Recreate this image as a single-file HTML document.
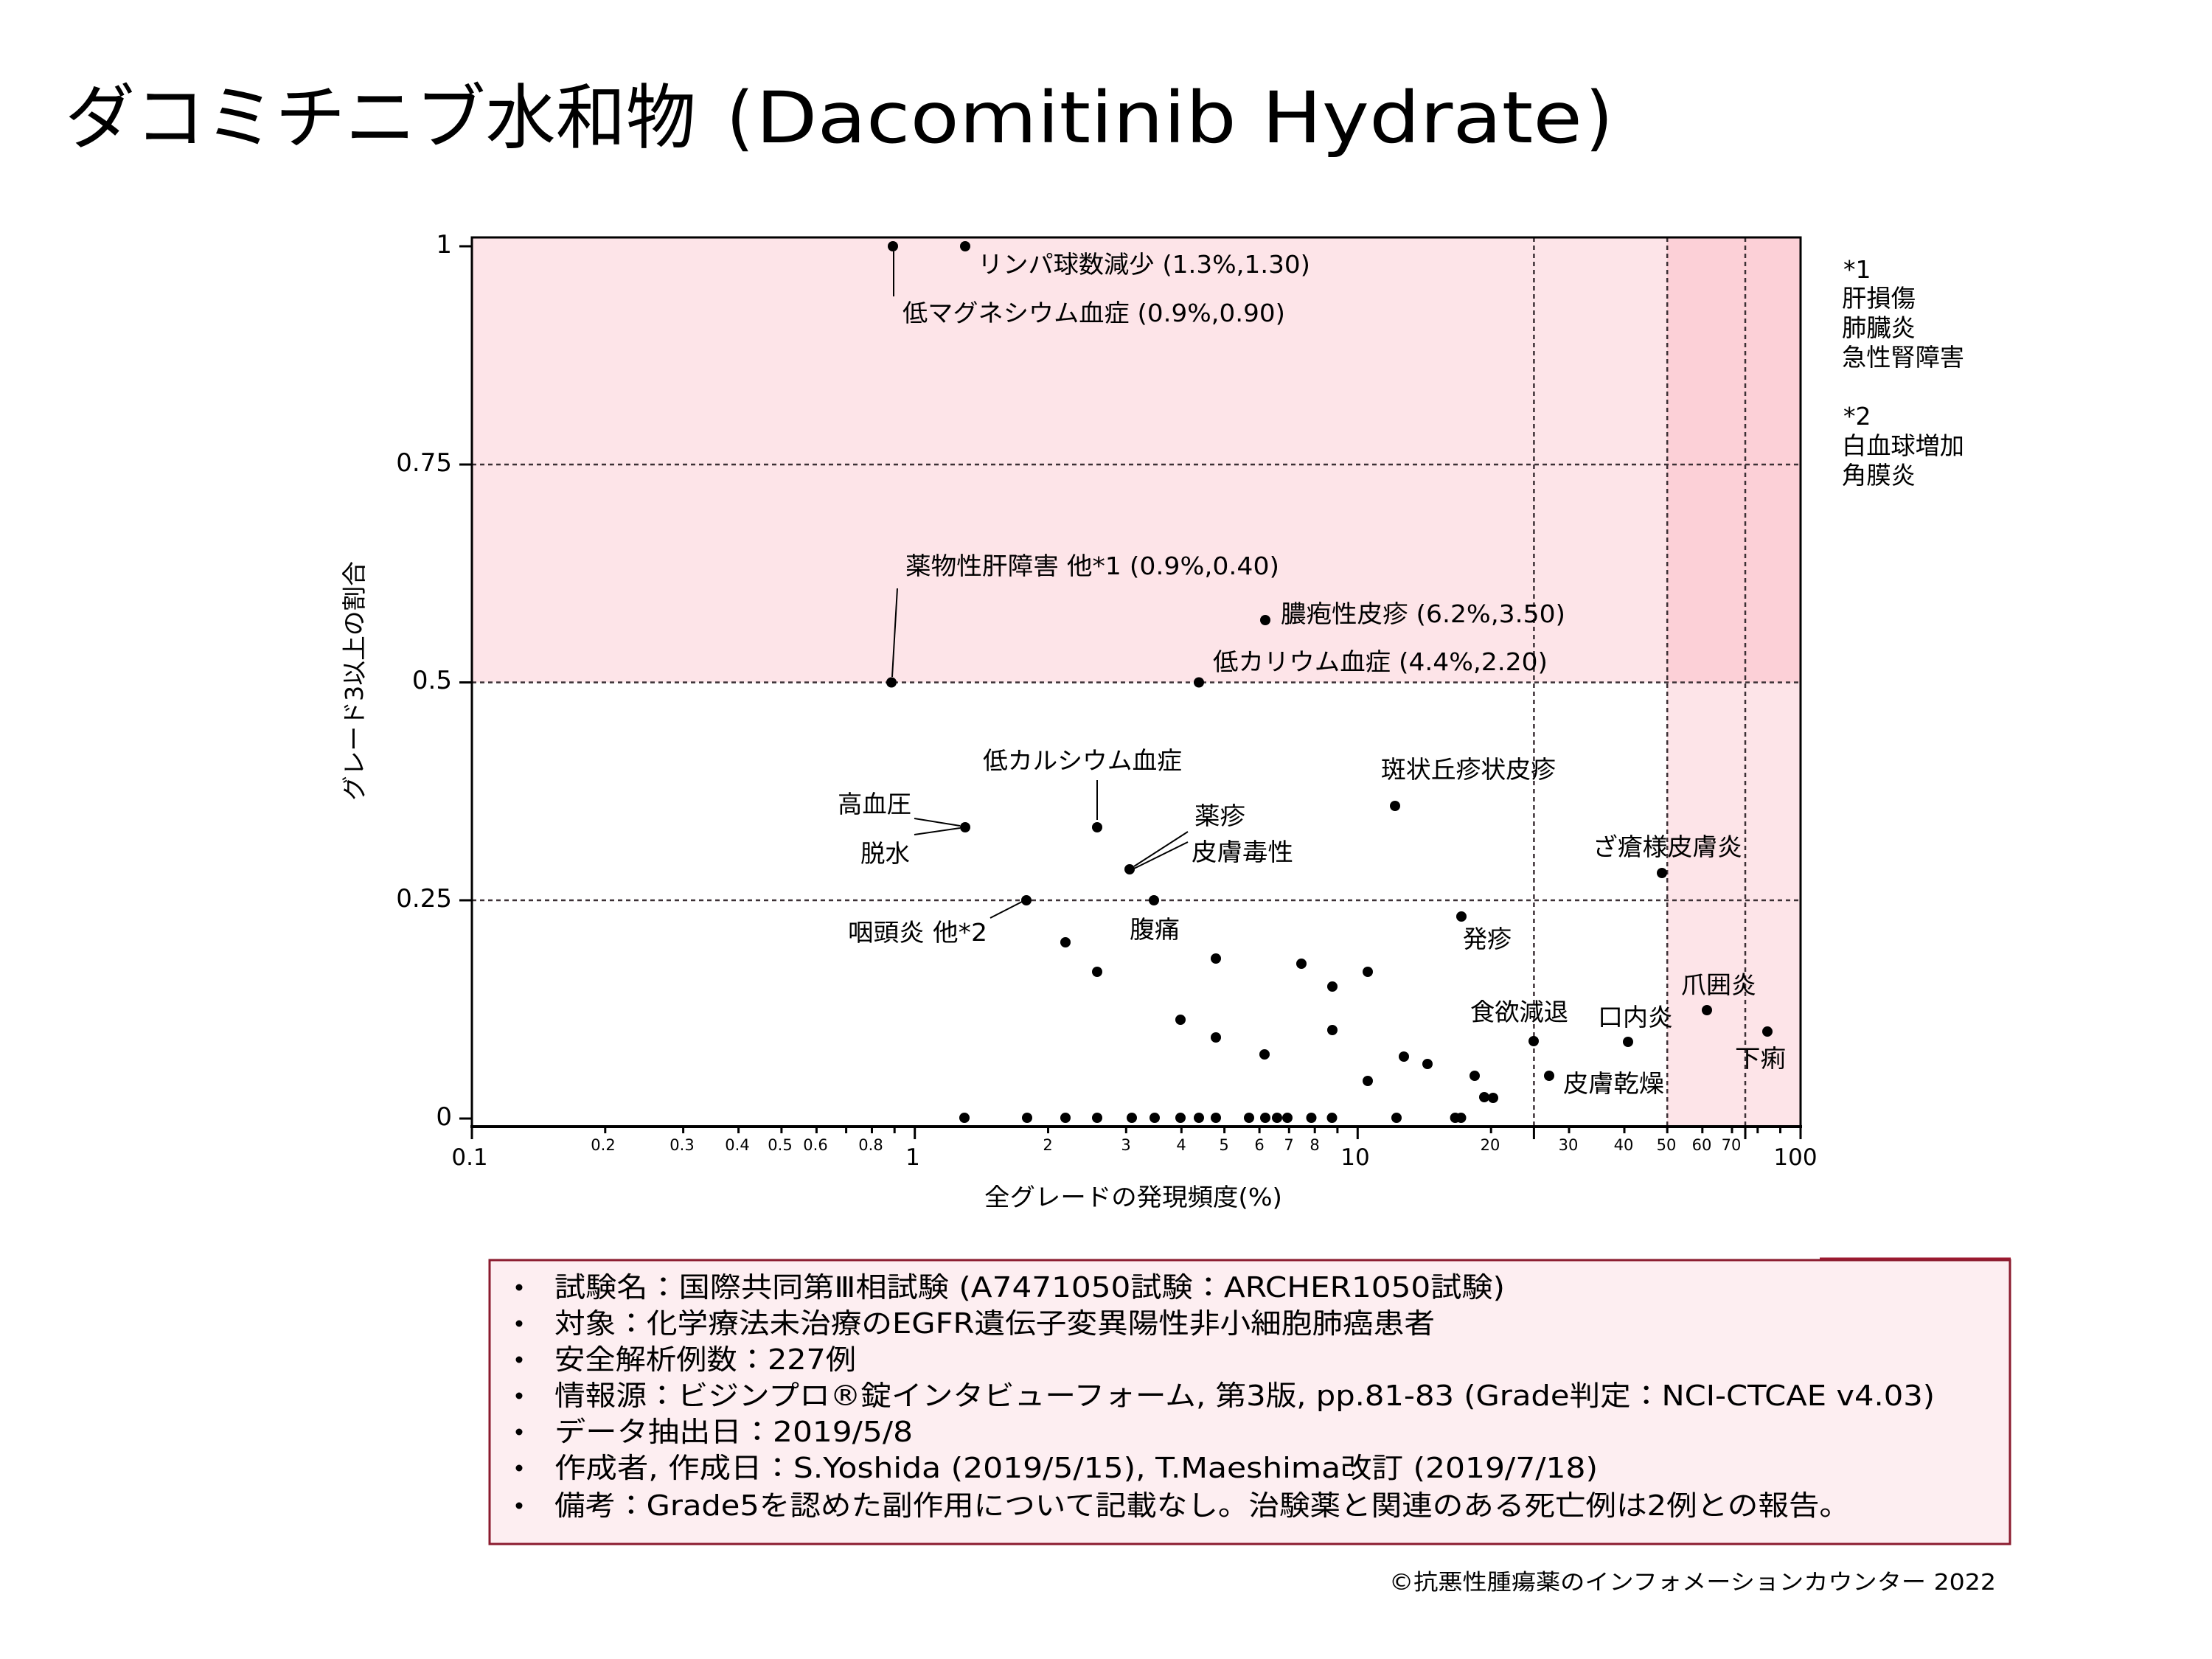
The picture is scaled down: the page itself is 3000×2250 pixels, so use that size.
<!DOCTYPE html>
<html>
<head>
<meta charset="utf-8">
<style>
html,body{margin:0;padding:0;background:#fff;}
svg{display:block;}
.t{font-family:"DejaVu Sans","Noto Sans CJK JP",sans-serif;fill:#000;}
.j{font-family:"DejaVu Sans","Noto Sans CJK JP",sans-serif;fill:#000;}
</style>
</head>
<body>
<svg width="3000" height="2250" viewBox="0 0 3000 2250" xmlns="http://www.w3.org/2000/svg">
<rect x="0" y="0" width="3000" height="2250" fill="#ffffff"/>

<!-- Title -->
<text class="j" x="88" y="193" font-size="96" textLength="856" lengthAdjust="spacingAndGlyphs">ダコミチニブ水和物</text>
<text class="t" x="985" y="193" font-size="96">(</text>
<text class="t" x="1025" y="193" font-size="96" textLength="1121" lengthAdjust="spacingAndGlyphs">Dacomitinib Hydrate</text>
<text class="t" x="2150" y="193" font-size="96">)</text>

<!-- shaded regions -->
<rect x="640" y="322" width="1802" height="603.5" fill="#fde4e8"/>
<rect x="2261" y="322" width="181" height="1206" fill="#fde4e8"/>
<rect x="2261" y="322" width="181" height="603.5" fill="#fcd0d7"/>

<!-- dashed reference lines -->
<g stroke="#3c3035" stroke-width="2.5" stroke-dasharray="6,5" fill="none">
  <line x1="640" y1="630" x2="2442" y2="630"/>
  <line x1="640" y1="925.5" x2="2442" y2="925.5"/>
  <line x1="640" y1="1221" x2="2442" y2="1221"/>
  <line x1="2080.4" y1="322" x2="2080.4" y2="1528"/>
  <line x1="2261.2" y1="322" x2="2261.2" y2="1528"/>
  <line x1="2367" y1="322" x2="2367" y2="1528"/>
</g>

<!-- plot frame -->
<rect x="640" y="322" width="1802" height="1206" fill="none" stroke="#000" stroke-width="3"/>
<line x1="638" y1="1528" x2="2444" y2="1528" stroke="#000" stroke-width="4"/>

<!-- y ticks -->
<g stroke="#000" stroke-width="3">
  <line x1="623" y1="334" x2="640" y2="334"/>
  <line x1="623" y1="630" x2="640" y2="630"/>
  <line x1="623" y1="925.5" x2="640" y2="925.5"/>
  <line x1="623" y1="1221" x2="640" y2="1221"/>
  <line x1="623" y1="1517" x2="640" y2="1517"/>
</g>
<g class="t" font-size="34" text-anchor="end">
  <text x="613" y="343">1</text>
  <text x="613" y="639">0.75</text>
  <text x="613" y="934">0.5</text>
  <text x="613" y="1230">0.25</text>
  <text x="613" y="1526">0</text>
</g>

<!-- x ticks -->
<g stroke="#000" stroke-width="3">
  <line x1="640" y1="1528" x2="640" y2="1545"/>
  <line x1="1240.7" y1="1528" x2="1240.7" y2="1545"/>
  <line x1="1841.3" y1="1528" x2="1841.3" y2="1545"/>
  <line x1="2442" y1="1528" x2="2442" y2="1545"/>
  <line x1="2080.4" y1="1528" x2="2080.4" y2="1545"/>
  <line x1="2367" y1="1528" x2="2367" y2="1545"/>
  <line x1="820.8" y1="1528" x2="820.8" y2="1537"/>
  <line x1="926.6" y1="1528" x2="926.6" y2="1537"/>
  <line x1="1001.6" y1="1528" x2="1001.6" y2="1537"/>
  <line x1="1059.9" y1="1528" x2="1059.9" y2="1537"/>
  <line x1="1107.4" y1="1528" x2="1107.4" y2="1537"/>
  <line x1="1147.6" y1="1528" x2="1147.6" y2="1537"/>
  <line x1="1182.5" y1="1528" x2="1182.5" y2="1537"/>
  <line x1="1213.2" y1="1528" x2="1213.2" y2="1537"/>
  <line x1="1421.5" y1="1528" x2="1421.5" y2="1537"/>
  <line x1="1527.3" y1="1528" x2="1527.3" y2="1537"/>
  <line x1="1602.3" y1="1528" x2="1602.3" y2="1537"/>
  <line x1="1660.6" y1="1528" x2="1660.6" y2="1537"/>
  <line x1="1708.1" y1="1528" x2="1708.1" y2="1537"/>
  <line x1="1748.3" y1="1528" x2="1748.3" y2="1537"/>
  <line x1="1783.2" y1="1528" x2="1783.2" y2="1537"/>
  <line x1="1813.9" y1="1528" x2="1813.9" y2="1537"/>
  <line x1="2022.2" y1="1528" x2="2022.2" y2="1537"/>
  <line x1="2128" y1="1528" x2="2128" y2="1537"/>
  <line x1="2203" y1="1528" x2="2203" y2="1537"/>
  <line x1="2261.2" y1="1528" x2="2261.2" y2="1537"/>
  <line x1="2308.8" y1="1528" x2="2308.8" y2="1537"/>
  <line x1="2349" y1="1528" x2="2349" y2="1537"/>
  <line x1="2383.8" y1="1528" x2="2383.8" y2="1537"/>
  <line x1="2414.5" y1="1528" x2="2414.5" y2="1537"/>
</g>
<g class="t" font-size="31" text-anchor="middle">
  <text x="637" y="1580">0.1</text>
  <text x="1238" y="1580">1</text>
  <text x="1838" y="1580">10</text>
  <text x="2435" y="1580">100</text>
</g>
<g class="t" font-size="21" text-anchor="middle">
  <text x="818" y="1560">0.2</text>
  <text x="925" y="1560">0.3</text>
  <text x="1000" y="1560">0.4</text>
  <text x="1058" y="1560">0.5</text>
  <text x="1106" y="1560">0.6</text>
  <text x="1181" y="1560">0.8</text>
  <text x="1421" y="1560">2</text>
  <text x="1527" y="1560">3</text>
  <text x="1602" y="1560">4</text>
  <text x="1660" y="1560">5</text>
  <text x="1708" y="1560">6</text>
  <text x="1748" y="1560">7</text>
  <text x="1783" y="1560">8</text>
  <text x="2021" y="1560">20</text>
  <text x="2127" y="1560">30</text>
  <text x="2202" y="1560">40</text>
  <text x="2260" y="1560">50</text>
  <text x="2308" y="1560">60</text>
  <text x="2348" y="1560">70</text>
</g>

<!-- axis titles -->
<text class="j" x="1335" y="1635" font-size="33" textLength="404" lengthAdjust="spacingAndGlyphs">全グレードの発現頻度(%)</text>
<g transform="translate(480,924) rotate(-90)">
  <text class="j" x="-162" y="12" font-size="33" textLength="325" lengthAdjust="spacingAndGlyphs">グレード3以上の割合</text>
</g>

<!-- leader lines -->
<g stroke="#000" stroke-width="2" fill="none">
  <line x1="1212" y1="341" x2="1212" y2="402"/>
  <line x1="1210" y1="918" x2="1217" y2="798"/>
  <line x1="1240" y1="1110" x2="1302" y2="1120"/>
  <line x1="1240" y1="1132" x2="1302" y2="1123"/>
  <line x1="1488" y1="1058" x2="1488" y2="1112"/>
  <line x1="1538" y1="1175" x2="1611" y2="1128"/>
  <line x1="1538" y1="1178" x2="1611" y2="1142"/>
  <line x1="1343" y1="1245" x2="1386" y2="1223"/>
</g>

<!-- data points -->
<g fill="#000">
  <circle cx="1211" cy="334" r="7"/>
  <circle cx="1309" cy="334" r="7"/>
  <circle cx="1209" cy="925.5" r="7"/>
  <circle cx="1626" cy="925.5" r="7"/>
  <circle cx="1716" cy="841" r="7"/>
  <circle cx="1309" cy="1122" r="7"/>
  <circle cx="1488" cy="1122" r="7"/>
  <circle cx="1532" cy="1179" r="7"/>
  <circle cx="1392" cy="1221" r="7"/>
  <circle cx="1565" cy="1221" r="7"/>
  <circle cx="1892" cy="1093" r="7"/>
  <circle cx="2254" cy="1184" r="7"/>
  <circle cx="1982" cy="1243" r="7"/>
  <circle cx="1445" cy="1278" r="7"/>
  <circle cx="1488" cy="1318" r="7"/>
  <circle cx="1649" cy="1300" r="7"/>
  <circle cx="1765" cy="1307" r="7"/>
  <circle cx="1855" cy="1318" r="7"/>
  <circle cx="1807" cy="1338" r="7"/>
  <circle cx="1601" cy="1383" r="7"/>
  <circle cx="1649" cy="1407" r="7"/>
  <circle cx="1807" cy="1397" r="7"/>
  <circle cx="1715" cy="1430" r="7"/>
  <circle cx="1904" cy="1433" r="7"/>
  <circle cx="1936" cy="1443" r="7"/>
  <circle cx="1855" cy="1466" r="7"/>
  <circle cx="2000" cy="1459" r="7"/>
  <circle cx="2013" cy="1488" r="7"/>
  <circle cx="2025" cy="1489" r="7"/>
  <circle cx="2080" cy="1412" r="7"/>
  <circle cx="2208" cy="1413" r="7"/>
  <circle cx="2315" cy="1370" r="7"/>
  <circle cx="2397" cy="1399" r="7"/>
  <circle cx="2101" cy="1459" r="7"/>
  <circle cx="1308" cy="1516" r="7"/>
  <circle cx="1393" cy="1516" r="7"/>
  <circle cx="1445" cy="1516" r="7"/>
  <circle cx="1488" cy="1516" r="7"/>
  <circle cx="1535" cy="1516" r="7"/>
  <circle cx="1566" cy="1516" r="7"/>
  <circle cx="1601" cy="1516" r="7"/>
  <circle cx="1626" cy="1516" r="7"/>
  <circle cx="1649" cy="1516" r="7"/>
  <circle cx="1694" cy="1516" r="7"/>
  <circle cx="1716" cy="1516" r="7"/>
  <circle cx="1732" cy="1516" r="7"/>
  <circle cx="1746" cy="1516" r="7"/>
  <circle cx="1778.5" cy="1516" r="7"/>
  <circle cx="1806.5" cy="1516" r="7"/>
  <circle cx="1894" cy="1516" r="7"/>
  <circle cx="1973.6" cy="1516" r="7"/>
  <circle cx="1981.5" cy="1516" r="7"/>
</g>

<!-- point labels -->
<g class="j" font-size="33">
  <text x="1326" y="370" textLength="451" lengthAdjust="spacingAndGlyphs">リンパ球数減少 (1.3%,1.30)</text>
  <text x="1224" y="436" textLength="519" lengthAdjust="spacingAndGlyphs">低マグネシウム血症 (0.9%,0.90)</text>
  <text x="1228" y="779" textLength="507" lengthAdjust="spacingAndGlyphs">薬物性肝障害 他*1 (0.9%,0.40)</text>
  <text x="1737" y="844" textLength="386" lengthAdjust="spacingAndGlyphs">膿疱性皮疹 (6.2%,3.50)</text>
  <text x="1645" y="909" textLength="454" lengthAdjust="spacingAndGlyphs">低カリウム血症 (4.4%,2.20)</text>
  <text x="1333" y="1043" textLength="270" lengthAdjust="spacingAndGlyphs">低カルシウム血症</text>
  <text x="1136" y="1102" textLength="100" lengthAdjust="spacingAndGlyphs">高血圧</text>
  <text x="1167" y="1169" textLength="67" lengthAdjust="spacingAndGlyphs">脱水</text>
  <text x="1620" y="1118" textLength="69" lengthAdjust="spacingAndGlyphs">薬疹</text>
  <text x="1616" y="1167" textLength="138" lengthAdjust="spacingAndGlyphs">皮膚毒性</text>
  <text x="1150" y="1276" textLength="189" lengthAdjust="spacingAndGlyphs">咽頭炎 他*2</text>
  <text x="1532" y="1272" textLength="68" lengthAdjust="spacingAndGlyphs">腹痛</text>
  <text x="1873" y="1055" textLength="237" lengthAdjust="spacingAndGlyphs">斑状丘疹状皮疹</text>
  <text x="2160" y="1160" textLength="203" lengthAdjust="spacingAndGlyphs">ざ瘡様皮膚炎</text>
  <text x="1984" y="1285" textLength="66" lengthAdjust="spacingAndGlyphs">発疹</text>
  <text x="1994" y="1384" textLength="133" lengthAdjust="spacingAndGlyphs">食欲減退</text>
  <text x="2167" y="1391" textLength="102" lengthAdjust="spacingAndGlyphs">口内炎</text>
  <text x="2280" y="1347" textLength="102" lengthAdjust="spacingAndGlyphs">爪囲炎</text>
  <text x="2353" y="1447" textLength="69" lengthAdjust="spacingAndGlyphs">下痢</text>
  <text x="2120" y="1481" textLength="137" lengthAdjust="spacingAndGlyphs">皮膚乾燥</text>
</g>

<!-- right notes -->
<g class="j" font-size="33">
  <text x="2500" y="377">*1</text>
  <text x="2498" y="416" textLength="100" lengthAdjust="spacingAndGlyphs">肝損傷</text>
  <text x="2498" y="456" textLength="100" lengthAdjust="spacingAndGlyphs">肺臓炎</text>
  <text x="2498" y="496" textLength="166" lengthAdjust="spacingAndGlyphs">急性腎障害</text>
  <text x="2500" y="576">*2</text>
  <text x="2498" y="616" textLength="166" lengthAdjust="spacingAndGlyphs">白血球増加</text>
  <text x="2498" y="656" textLength="100" lengthAdjust="spacingAndGlyphs">角膜炎</text>
</g>

<!-- info box -->
<rect x="664" y="1709" width="2062" height="385" fill="#fdeef1" stroke="#8b1b2e" stroke-width="3"/>
<line x1="2468" y1="1707" x2="2727" y2="1707" stroke="#9c1a30" stroke-width="3"/>
<g fill="#000">
  <circle cx="704" cy="1746" r="4.5"/>
  <circle cx="704" cy="1795" r="4.5"/>
  <circle cx="704" cy="1844" r="4.5"/>
  <circle cx="704" cy="1893" r="4.5"/>
  <circle cx="704" cy="1942" r="4.5"/>
  <circle cx="704" cy="1991" r="4.5"/>
  <circle cx="704" cy="2042" r="4.5"/>
</g>
<g class="j" font-size="38">
  <text x="752" y="1759" textLength="1289" lengthAdjust="spacingAndGlyphs">試験名：国際共同第Ⅲ相試験 (A7471050試験：ARCHER1050試験)</text>
  <text x="752" y="1808" textLength="1194" lengthAdjust="spacingAndGlyphs">対象：化学療法未治療のEGFR遺伝子変異陽性非小細胞肺癌患者</text>
  <text x="752" y="1857" textLength="409" lengthAdjust="spacingAndGlyphs">安全解析例数：227例</text>
  <text x="752" y="1906" textLength="1872" lengthAdjust="spacingAndGlyphs">情報源：ビジンプロ®錠インタビューフォーム, 第3版, pp.81-83 (Grade判定：NCI-CTCAE v4.03)</text>
  <text x="752" y="1955" textLength="486" lengthAdjust="spacingAndGlyphs">データ抽出日：2019/5/8</text>
  <text x="752" y="2004" textLength="1415" lengthAdjust="spacingAndGlyphs">作成者, 作成日：S.Yoshida (2019/5/15), T.Maeshima改訂 (2019/7/18)</text>
  <text x="752" y="2055" textLength="1757" lengthAdjust="spacingAndGlyphs">備考：Grade5を認めた副作用について記載なし。治験薬と関連のある死亡例は2例との報告。</text>
</g>

<!-- footer -->
<text class="j" x="1884" y="2156" font-size="30" textLength="823" lengthAdjust="spacingAndGlyphs">©抗悪性腫瘍薬のインフォメーションカウンター  2022</text>
</svg>
</body>
</html>
